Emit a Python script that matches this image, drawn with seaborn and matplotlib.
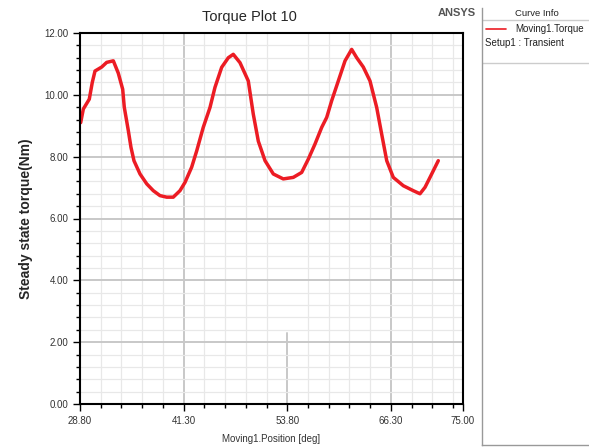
import matplotlib
matplotlib.use("Agg")
import matplotlib.pyplot as plt
import seaborn as sns
import numpy as np
import pandas as pd
from matplotlib.ticker import MultipleLocator, FixedLocator

# data
position = [28.88, 29.20, 29.92, 30.28, 30.61, 31.42, 32.02, 32.82, 33.42, 33.95,
            34.14, 34.63, 34.95, 35.31, 36.04, 36.85, 37.64, 38.45, 39.26, 40.05,
            40.86, 41.47, 42.27, 42.88, 43.67, 44.48, 45.08, 45.89, 46.69, 47.29,
            48.10, 49.10, 49.70, 50.31, 51.12, 52.12, 53.32, 54.53, 55.54, 56.34,
            57.15, 57.96, 58.56, 59.16, 59.96, 60.77, 61.57, 62.18, 62.97, 63.78,
            64.59, 65.19, 65.80, 66.59, 67.80, 69.00, 69.81, 70.42, 71.02, 72.02]
torque = [9.10, 9.54, 9.86, 10.40, 10.77, 10.90, 11.05, 11.10, 10.70, 10.18,
          9.60, 8.84, 8.30, 7.87, 7.44, 7.12, 6.90, 6.74, 6.69, 6.69,
          6.90, 7.17, 7.66, 8.19, 8.95, 9.59, 10.24, 10.89, 11.20, 11.31,
          11.04, 10.45, 9.38, 8.50, 7.87, 7.44, 7.28, 7.33, 7.49, 7.92,
          8.41, 8.95, 9.27, 9.81, 10.45, 11.10, 11.47, 11.20, 10.90, 10.45,
          9.59, 8.73, 7.87, 7.33, 7.06, 6.90, 6.80, 7.01, 7.33, 7.87]
x_ticks = [28.80, 41.30, 53.80, 66.30, 75.00]
y_ticks = [0, 2, 4, 6, 8, 10, 12]

df = pd.DataFrame({"Moving1.Position [deg]": position, "Moving1.Torque": torque})

sns.set_style("white")
plt.rcParams["font.family"] = ["Liberation Sans", "DejaVu Sans"]

fig = plt.figure(figsize=(5.89, 4.47), dpi=100)
ax = fig.add_axes([80 / 589, 1 - 404 / 447, 383 / 589, 371 / 447])

sns.lineplot(data=df, x="Moving1.Position [deg]", y="Moving1.Torque", ax=ax,
             color="#ec1c24", linewidth=2.5, legend=False)

ax.set_xlim(28.8, 75.0)
ax.set_ylim(0, 12)
ax.xaxis.set_major_locator(FixedLocator(x_ticks))
ax.xaxis.set_minor_locator(FixedLocator(np.arange(28.8 + 2.5, 75.0, 2.5)))
ax.yaxis.set_major_locator(FixedLocator(y_ticks))
ax.yaxis.set_minor_locator(MultipleLocator(0.4))
ax.set_xticklabels([f"{v:.2f}" for v in x_ticks])
ax.set_yticklabels([f"{v:.2f}" for v in y_ticks])

ax.grid(which="minor", color="#e8e8e8", linewidth=0.9)
ax.grid(which="major", color="#c8c8c8", linewidth=1.4)
ax.set_axisbelow(True)
# the 53.80 major line only shows near the bottom in the reference
ax.get_xgridlines()[2].set_visible(False)
ax.axvline(53.8, ymin=0, ymax=2.3 / 12, color="#c8c8c8", linewidth=1.4, zorder=0.5)

ax.tick_params(which="both", direction="out", color="black", labelsize=7,
               labelcolor="#333333", bottom=True, left=True)
ax.tick_params(which="major", length=5, width=1)
ax.tick_params(which="minor", length=3, width=1)
for s in ax.spines.values():
    s.set_color("black")
    s.set_linewidth(1.5)

ax.set_xlabel("Moving1.Position [deg]", fontsize=7, color="#333333", labelpad=6)
ax.set_ylabel("Steady state torque(Nm)", fontsize=10, fontweight="bold", labelpad=8)
fig.text(249 / 589, 1 - 17 / 447, "Torque Plot 10", ha="center", va="center", fontsize=10.5)
fig.text(457 / 589, 1 - 13 / 447, "ANSYS", ha="center", va="center", fontsize=8,
         fontweight="bold", color="#555555")

# Curve Info panel on the right
panel = fig.add_axes([482 / 589, 2 / 447, 110 / 589, 437 / 447])
panel.set_xlim(0, 1)
panel.set_ylim(445, 8)
panel.set_xticks([])
panel.set_yticks([])
for s in panel.spines.values():
    s.set_color("#999999")
    s.set_linewidth(1)
panel.spines["top"].set_visible(False)
panel.spines["right"].set_visible(False)
panel.axhline(20, color="#cccccc", linewidth=1)
panel.axhline(63, color="#cccccc", linewidth=1)
panel.text(0.5, 14, "Curve Info", ha="center", va="center", fontsize=6.8, color="#222222")
panel.plot([0.04, 0.22], [28.5, 28.5], color="#ec1c24", linewidth=1.2)
panel.text(0.3, 29, "Moving1.Torque", ha="left", va="center", fontsize=7, color="#222222")
panel.text(0.03, 43, "Setup1 : Transient", ha="left", va="center", fontsize=7, color="#222222")

fig.savefig("out.png", dpi=100)
